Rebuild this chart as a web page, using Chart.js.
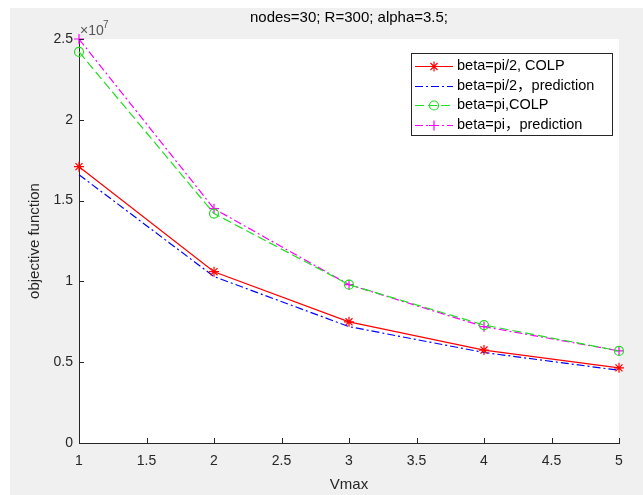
<!DOCTYPE html>
<html>
<head>
<meta charset="utf-8">
<script src="https://cdn.jsdelivr.net/npm/chart.js@4.4.1/dist/chart.umd.min.js"></script>
<style>
html,body{margin:0;padding:0;background:#fff;}
#wrap{width:643px;height:495px;position:relative;}
</style>
</head>
<body>
<div id="wrap"><canvas id="c" width="643" height="495"></canvas></div>
<script>
const vmax = [1, 2, 3, 4, 5];
const redCOLP = [1.71e7, 1.06e7, 0.75e7, 0.575e7, 0.465e7];
const bluePred = [1.66e7, 1.03e7, 0.72e7, 0.56e7, 0.45e7];
const greenCOLP = [2.42e7, 1.42e7, 0.98e7, 0.73e7, 0.57e7];
const magentaPred = [2.5e7, 1.45e7, 0.98e7, 0.72e7, 0.57e7];
const seriesLabels = ['beta=pi/2, COLP', 'beta=pi/2\uFF0Cprediction', 'beta=pi,COLP', 'beta=pi\uFF0Cprediction'];
const xTicks = [1, 1.5, 2, 2.5, 3, 3.5, 4, 4.5, 5];
const yTicks = [0, 0.5e7, 1e7, 1.5e7, 2e7, 2.5e7];
const titleText = 'nodes=30; R=300; alpha=3.5;';
const xTitle = 'Vmax';
const yTitle = 'objective function';

const FONT = '"Liberation Sans", Arial, "Noto Sans CJK SC", sans-serif';
const TXT = '#262626';

function pts(arr){ return vmax.map((x,i)=>({x:x, y:arr[i]})); }

const styles = [
  {color:'#ff0000', dash:[], point:'star', r:5},
  {color:'#0000ff', dash:[8,3,2,3], point:false, r:0},
  {color:'#22dd22', dash:[9,4], point:'circle', r:4.5},
  {color:'#ff00ff', dash:[8,3,2,3], point:'cross', r:5}
];
const allData = [redCOLP, bluePred, greenCOLP, magentaPred];

const datasets = allData.map((arr,i)=>({
  label: seriesLabels[i],
  data: pts(arr),
  borderColor: styles[i].color,
  backgroundColor: 'rgba(0,0,0,0)',
  borderWidth: 1.2,
  borderDash: styles[i].dash,
  pointStyle: styles[i].point,
  pointRadius: styles[i].r,
  pointBorderColor: styles[i].color,
  pointBackgroundColor: 'rgba(0,0,0,0)',
  pointBorderWidth: 1.2,
  tension: 0,
  clip: false
}));

const deco = {
  id: 'deco',
  beforeDraw(chart){
    const ctx = chart.ctx;
    ctx.save();
    ctx.fillStyle = '#ffffff';
    ctx.fillRect(0,0,chart.width,chart.height);
    ctx.fillStyle = '#f0f0f0';
    ctx.fillRect(10,8,chart.width-10,chart.height-8);
    const a = chart.chartArea;
    ctx.fillStyle = '#ffffff';
    ctx.fillRect(a.left,a.top,a.right-a.left,a.bottom-a.top);
    ctx.restore();
  },
  afterDraw(chart){
    const ctx = chart.ctx;
    const a = chart.chartArea;
    const xs = chart.scales.x, ys = chart.scales.y;
    ctx.save();
    // inward ticks
    ctx.strokeStyle = TXT; ctx.lineWidth = 1;
    ctx.beginPath();
    xTicks.forEach(v=>{
      const px = Math.round(xs.getPixelForValue(v))+0.5;
      ctx.moveTo(px, a.bottom); ctx.lineTo(px, a.bottom-5);
    });
    yTicks.forEach(v=>{
      const py = Math.round(ys.getPixelForValue(v))+0.5;
      ctx.moveTo(a.left, py); ctx.lineTo(a.left+5, py);
    });
    ctx.stroke();
    // title
    ctx.fillStyle = '#000';
    ctx.font = '15px ' + FONT;
    ctx.textAlign = 'center'; ctx.textBaseline = 'middle';
    ctx.fillText(titleText, (a.left+a.right)/2, 18);
    // axis titles
    ctx.fillStyle = TXT;
    ctx.font = '15px ' + FONT;
    ctx.fillText(xTitle, (a.left+a.right)/2, 485);
    ctx.save();
    ctx.translate(35, (a.top+a.bottom)/2);
    ctx.rotate(-Math.PI/2);
    ctx.fillText(yTitle, 0, 0);
    ctx.restore();
    // exponent
    ctx.textAlign = 'left';
    ctx.fillStyle = '#555';
    ctx.font = '14px ' + FONT;
    ctx.fillText('\u00D710', a.left+1, 31);
    ctx.font = '10px ' + FONT;
    ctx.fillText('7', a.left+24, 25);
    // legend
    const L = {x:411, y:53, w:201, h:82};
    ctx.fillStyle = '#fff';
    ctx.fillRect(L.x, L.y, L.w, L.h);
    ctx.strokeStyle = TXT;
    ctx.strokeRect(L.x+0.5, L.y+0.5, L.w, L.h);
    const rows = [66, 86, 105, 125];
    chart.data.datasets.forEach((ds,i)=>{
      const y = rows[i]+0.5;
      ctx.strokeStyle = ds.borderColor;
      ctx.lineWidth = 1.2;
      ctx.setLineDash(ds.borderDash);
      ctx.beginPath(); ctx.moveTo(415,y); ctx.lineTo(453,y); ctx.stroke();
      ctx.setLineDash([]);
      if (ds.pointStyle) {
        ctx.fillStyle = 'rgba(0,0,0,0)';
        ctx.strokeStyle = ds.borderColor;
        Chart.helpers.drawPoint(ctx, {pointStyle: ds.pointStyle, radius: ds.pointRadius, rotation:0, borderWidth:1.2}, 434, y);
      }
      ctx.fillStyle = '#000';
      ctx.font = '14.5px ' + FONT;
      ctx.textAlign = 'left'; ctx.textBaseline = 'middle';
      ctx.fillText(ds.label, 457, rows[i]);
    });
    ctx.restore();
  }
};

new Chart(document.getElementById('c'), {
  type: 'line',
  data: { datasets },
  options: {
    responsive: false,
    animation: false,
    devicePixelRatio: 1,
    layout: { padding: {left:0, top:39, right:24, bottom:0} },
    plugins: { legend:{display:false}, tooltip:{enabled:false}, title:{display:false} },
    scales: {
      x: {
        type: 'linear', min: 1, max: 5,
        afterFit(s){ s.height = 52; },
        afterBuildTicks(s){ s.ticks = xTicks.map(v=>({value:v})); },
        ticks: { color: TXT, font:{family:FONT, size:14}, padding: 10, maxRotation:0,
          callback: v => String(v) },
        grid: { drawOnChartArea:false, drawTicks:false },
        border: { display:true, color: TXT, width:1 }
      },
      y: {
        type: 'linear', min: 0, max: 2.5e7,
        afterFit(s){ s.width = 79; },
        afterBuildTicks(s){ s.ticks = yTicks.map(v=>({value:v})); },
        ticks: { color: TXT, font:{family:FONT, size:14}, padding: 6,
          callback: v => String(Math.round(v/1e6)/10) },
        grid: { drawOnChartArea:false, drawTicks:false },
        border: { display:true, color: TXT, width:1 }
      }
    }
  },
  plugins: [deco]
});
</script>
</body>
</html>
